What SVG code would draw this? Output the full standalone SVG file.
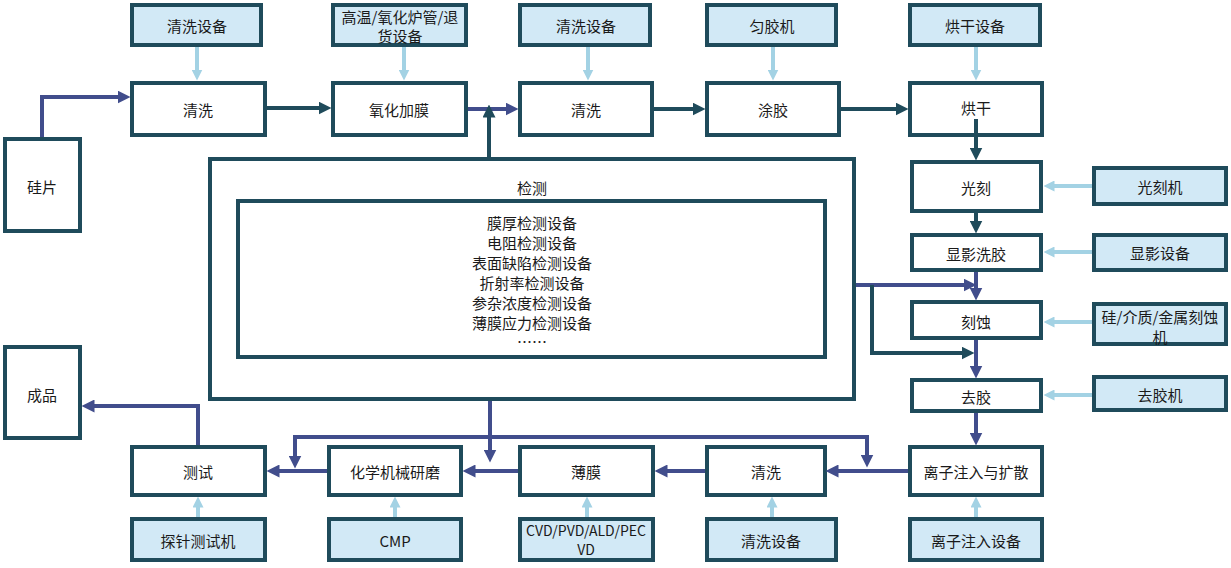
<svg xmlns="http://www.w3.org/2000/svg" width="1231" height="568" viewBox="0 0 1231 568">
<style>
.p{fill:#ffffff;stroke:#1f4b5b;stroke-width:4}
.e{fill:#d2e9f6;stroke:#1f4b5b;stroke-width:4}
.t{font-family:"Noto Sans CJK SC","Noto Sans",sans-serif;font-size:15px;fill:#1a1a1a;text-anchor:middle;dominant-baseline:central}
.s{font-size:14px}
.cp{fill:none;stroke:#414d8c;stroke-width:4}
.ct{fill:none;stroke:#1f4b5b;stroke-width:4}
.cl{fill:none;stroke:#a3d2e4;stroke-width:4}
</style>
<defs>
<marker id="ap" viewBox="0 0 12 12" markerWidth="13" markerHeight="13" markerUnits="userSpaceOnUse" refX="6" refY="6" orient="auto-start-reverse"><path d="M0,0 L12,6 L0,12 z" fill="#414d8c"/></marker>
<marker id="at" viewBox="0 0 12 12" markerWidth="13" markerHeight="13" markerUnits="userSpaceOnUse" refX="6" refY="6" orient="auto"><path d="M0,0 L12,6 L0,12 z" fill="#1f4b5b"/></marker>
<marker id="al" viewBox="0 0 12 12" markerWidth="11" markerHeight="11" markerUnits="userSpaceOnUse" refX="6" refY="6" orient="auto"><path d="M0,0 L12,6 L0,12 z" fill="#a3d2e4"/></marker>
</defs>
<rect width="1231" height="568" fill="#ffffff"/>

<g id="inspect">
<rect class="p" x="210" y="159" width="644" height="240"/>
<text class="t" x="532" y="187">检测</text>
</g>
<g id="inspect-equipment">
<rect class="p" x="238" y="201" width="587" height="156"/>
<text class="t" x="532" y="222">膜厚检测设备</text>
<text class="t" x="532" y="242">电阻检测设备</text>
<text class="t" x="532" y="262">表面缺陷检测设备</text>
<text class="t" x="532" y="282">折射率检测设备</text>
<text class="t" x="532" y="302">参杂浓度检测设备</text>
<text class="t" x="532" y="322">薄膜应力检测设备</text>
<text class="t" x="532" y="341">……</text>
</g>

<g id="wafer"><rect class="p" x="5" y="139" width="75" height="92"/><text class="t" x="42" y="186">硅片</text></g>
<g id="product"><rect class="p" x="5" y="347" width="75" height="91"/><text class="t" x="42" y="394">成品</text></g>

<g id="clean1"><rect class="p" x="132" y="83" width="133" height="52"/><text class="t" x="198" y="109">清洗</text></g>
<g id="oxide"><rect class="p" x="333" y="83" width="133" height="52"/><text class="t" x="399" y="109">氧化加膜</text></g>
<g id="clean2"><rect class="p" x="520" y="83" width="132" height="52"/><text class="t" x="586" y="109">清洗</text></g>
<g id="coat"><rect class="p" x="707" y="83" width="132" height="52"/><text class="t" x="773" y="109">涂胶</text></g>
<g id="bake"><rect class="p" x="910" y="83" width="132" height="52"/><text class="t" x="976" y="107">烘干</text></g>
<g id="litho"><rect class="p" x="912" y="162" width="129" height="49"/><text class="t" x="976" y="187">光刻</text></g>
<g id="develop"><rect class="p" x="912" y="235" width="129" height="35"/><text class="t" x="976" y="253">显影洗胶</text></g>
<g id="etch"><rect class="p" x="912" y="302" width="129" height="36"/><text class="t" x="976" y="321">刻蚀</text></g>
<g id="strip"><rect class="p" x="912" y="380" width="129" height="31"/><text class="t" x="976" y="396">去胶</text></g>
<g id="implant"><rect class="p" x="910" y="447" width="132" height="48"/><text class="t" x="976" y="471">离子注入与扩散</text></g>
<g id="clean3"><rect class="p" x="707" y="447" width="118" height="48"/><text class="t" x="766" y="471">清洗</text></g>
<g id="film"><rect class="p" x="520" y="447" width="133" height="48"/><text class="t" x="586" y="471">薄膜</text></g>
<g id="cmp"><rect class="p" x="329" y="447" width="132" height="48"/><text class="t" x="395" y="471">化学机械研磨</text></g>
<g id="test"><rect class="p" x="132" y="447" width="133" height="48"/><text class="t" x="198" y="471">测试</text></g>

<g id="eq-clean1"><rect class="e" x="132" y="5" width="129" height="40"/><text class="t" x="197" y="25">清洗设备</text></g>
<g id="eq-furnace"><rect class="e" x="333" y="5" width="133" height="40"/><text class="t" x="400" y="16">高温/氧化炉管/退</text><text class="t" x="400" y="35">货设备</text></g>
<g id="eq-clean2"><rect class="e" x="520" y="5" width="130" height="40"/><text class="t" x="586" y="25">清洗设备</text></g>
<g id="eq-coater"><rect class="e" x="707" y="5" width="129" height="40"/><text class="t" x="772" y="25">匀胶机</text></g>
<g id="eq-bake"><rect class="e" x="910" y="5" width="130" height="40"/><text class="t" x="975" y="25">烘干设备</text></g>
<g id="eq-litho"><rect class="e" x="1094" y="168" width="132" height="36"/><text class="t" x="1160" y="186">光刻机</text></g>
<g id="eq-develop"><rect class="e" x="1094" y="235" width="132" height="35"/><text class="t" x="1160" y="252">显影设备</text></g>
<g id="eq-etch"><rect class="e" x="1094" y="304" width="132" height="40"/><text class="t" x="1160" y="316">硅/介质/金属刻蚀</text><text class="t" x="1160" y="336">机</text></g>
<g id="eq-strip"><rect class="e" x="1094" y="377" width="132" height="33"/><text class="t" x="1160" y="394">去胶机</text></g>
<g id="eq-probe"><rect class="e" x="132" y="519" width="133" height="41"/><text class="t" x="198" y="540">探针测试机</text></g>
<g id="eq-cmp"><rect class="e" x="329" y="519" width="132" height="41"/><text class="t" x="395" y="540">CMP</text></g>
<g id="eq-film"><rect class="e" x="520" y="519" width="133" height="41"/><text class="t s" x="586" y="530">CVD/PVD/ALD/PEC</text><text class="t s" x="586" y="549">VD</text></g>
<g id="eq-clean3"><rect class="e" x="707" y="519" width="129" height="41"/><text class="t" x="771" y="540">清洗设备</text></g>
<g id="eq-implant"><rect class="e" x="910" y="519" width="132" height="41"/><text class="t" x="976" y="540">离子注入设备</text></g>

<g id="connectors">
<path class="cp" d="M42,137 V97 H124" marker-end="url(#ap)"/>
<path class="ct" d="M267,108 H325" marker-end="url(#at)"/>
<path class="cp" d="M468,109 H512" marker-end="url(#ap)"/>
<path class="ct" d="M489,157 V111" marker-end="url(#at)"/>
<path class="ct" d="M654,109 H699" marker-end="url(#at)"/>
<path class="ct" d="M841,109 H902" marker-end="url(#at)"/>
<path class="ct" d="M976,119 V154" marker-end="url(#at)"/>
<path class="ct" d="M976,213 V227" marker-end="url(#at)"/>
<path class="cp" d="M976,272 V294" marker-end="url(#ap)"/>
<path class="cp" d="M856,285 H970" marker-end="url(#ap)"/>
<path class="ct" d="M872,285 V353 H968" marker-end="url(#at)"/>
<path class="cp" d="M976,340 V372" marker-end="url(#ap)"/>
<path class="cp" d="M976,413 V439" marker-end="url(#ap)"/>
<path class="cp" d="M908,471 H832" marker-end="url(#ap)"/>
<path class="cp" d="M295,462 V437 H867 V461" marker-start="url(#ap)" marker-end="url(#ap)"/>
<path class="cp" d="M490,401 V456" marker-end="url(#ap)"/>
<path class="cp" d="M705,471 H661" marker-end="url(#ap)"/>
<path class="cp" d="M518,471 H469" marker-end="url(#ap)"/>
<path class="cp" d="M327,471 H273" marker-end="url(#ap)"/>
<path class="cp" d="M198,445 V406 H88" marker-end="url(#ap)"/>
<path class="cl" d="M197,47 V75" marker-end="url(#al)"/>
<path class="cl" d="M404,47 V75" marker-end="url(#al)"/>
<path class="cl" d="M588,47 V75" marker-end="url(#al)"/>
<path class="cl" d="M773,47 V75" marker-end="url(#al)"/>
<path class="cl" d="M976,47 V75" marker-end="url(#al)"/>
<path class="cl" d="M1092,186 H1049" marker-end="url(#al)"/>
<path class="cl" d="M1092,252 H1049" marker-end="url(#al)"/>
<path class="cl" d="M1092,322 H1049" marker-end="url(#al)"/>
<path class="cl" d="M1092,395 H1049" marker-end="url(#al)"/>
<path class="cl" d="M198,517 V502" marker-end="url(#al)"/>
<path class="cl" d="M395,517 V502" marker-end="url(#al)"/>
<path class="cl" d="M587,517 V502" marker-end="url(#al)"/>
<path class="cl" d="M772,517 V502" marker-end="url(#al)"/>
<path class="cl" d="M976,517 V502" marker-end="url(#al)"/>
</g>
</svg>
